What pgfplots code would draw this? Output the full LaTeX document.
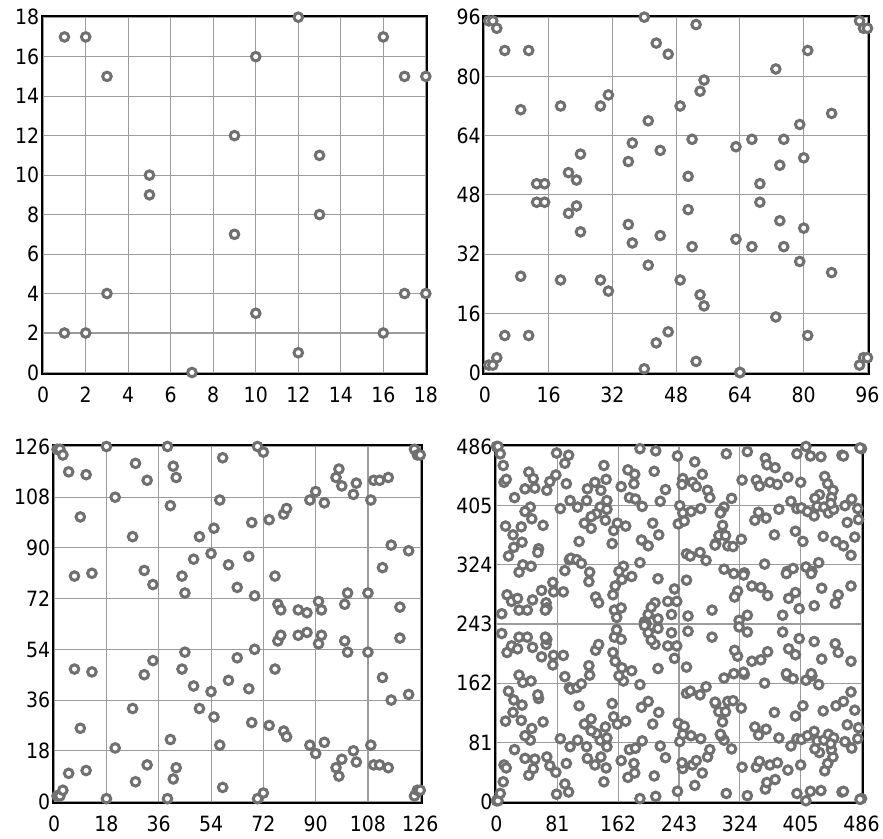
\documentclass[border=0pt]{standalone}
\usepackage{fontspec}
\setmainfont{DejaVu Sans Condensed}
\usepackage{pgfplots}
\usepackage{pgfplotstable}
\pgfplotsset{compat=1.18}
\definecolor{ring}{HTML}{707070}
\definecolor{gridc}{HTML}{9C9C9C}
\pgfplotstableread{
x y
1 17
2 17
16 17
12 18
10 16
3 15
17 15
18 15
9 12
13 11
5 10
5 9
13 8
9 7
3 4
17 4
18 4
10 3
1 2
2 2
16 2
12 1
7 0
}\dataA
\pgfplotstableread{
x y ym
1 95 2
2 95 2
3 93 4
5 87 10
11 87 10
9 71 26
19 72 25
29 72 25
31 75 22
40 96 1
53 94 3
43 89 8
46 86 11
55 79 18
54 76 21
49 72 25
41 68 29
52 63 34
37 62 35
44 60 37
36 57 40
24 59 38
21 54 43
23 52 45
13 51 46
15 51 46
51 53 44
63 61 36
67 63 34
75 63 34
79 67 30
73 82 15
81 87 10
87 70 27
80 58 39
74 56 41
69 51 46
94 95 2
95 93 4
96 93 4
64 0 0
}\dataB
\pgfplotstableread{
x y ym
1 125 2
2 125 2
3 123 4
18 126 1
39 126 1
70 126 1
72 124 3
58 122 5
28 120 7
41 119 8
42 115 12
32 114 13
5 117 10
11 116 11
21 108 19
40 105 22
9 101 26
27 94 33
57 107 20
55 97 30
50 94 33
54 88 39
48 86 41
44 80 47
45 74 53
7 80 47
13 81 46
31 82 45
34 77 50
60 84 43
63 76 51
67 87 40
69 73 54
68 99 28
74 100 27
79 102 25
80 104 23
76 80 47
77 70 57
78 68 59
84 68 59
87 67 60
88 107 20
90 110 17
93 106 21
91 71 56
92 68 59
97 115 12
98 118 9
99 112 15
100 70 57
101 74 53
103 109 18
104 113 14
108 74 53
109 107 20
110 114 13
112 114 13
115 115 12
113 83 44
116 91 36
122 89 38
119 69 58
124 125 2
125 123 4
126 123 4
}\dataC
\pgfplotstableread{
x y ym
0 486 1
1 485 2
2 486 1
5 476 11
9 460 27
10 437 50
13 441 46
43 451 36
49 442 45
38 428 59
51 429 58
24 416 71
67 426 61
71 438 49
79 447 40
80 477 10
96 474 13
91 463 24
93 435 52
143 460 27
146 441 46
131 437 50
121 428 59
139 426 61
98 412 75
120 412 75
85 401 86
108 403 84
147 412 75
138 403 84
147 400 87
133 394 93
126 390 97
145 385 102
117 381 106
126 374 113
45 403 84
38 397 90
47 387 100
62 378 109
12 377 110
33 376 111
22 365 122
34 355 132
23 348 139
16 336 151
56 346 141
55 341 146
110 356 131
156 371 116
161 381 106
172 377 110
154 353 134
175 454 33
184 448 39
183 435 52
166 431 56
191 483 4
212 480 7
241 473 14
210 452 35
225 427 60
218 411 76
177 416 71
185 414 73
194 404 83
208 381 106
216 365 122
193 358 129
202 350 137
242 380 107
244 405 82
35 324 163
46 322 165
30 314 173
97 331 156
99 333 154
107 331 156
113 326 161
91 316 171
124 314 173
123 301 186
169 322 165
163 315 172
180 308 179
167 304 183
191 327 160
215 305 182
158 295 192
155 283 204
237 291 196
132 280 207
136 272 215
75 300 187
60 289 198
76 287 200
89 287 200
14 283 204
20 274 213
28 278 209
48 276 211
30 262 225
41 262 225
66 272 215
67 265 222
65 262 225
7 257 230
157 262 225
166 265 222
211 272 215
228 274 213
240 274 213
202 256 231
215 250 237
233 256 231
206 266 221
160 252 235
199 244 243
197 246 241
248 442 45
247 434 53
264 465 22
274 448 39
261 437 50
266 431 56
281 426 61
284 416 71
259 397 90
272 401 86
248 395 92
250 384 103
306 476 11
334 479 8
358 470 17
360 461 26
371 457 30
400 476 11
412 486 1
418 473 14
432 472 15
460 474 13
462 473 14
486 483 4
484 484 3
327 440 47
346 440 47
350 432 55
364 437 50
374 434 53
388 444 43
405 437 50
437 445 42
441 435 52
448 426 61
430 420 67
424 415 72
446 416 71
473 414 73
313 415 72
303 403 84
299 397 90
298 395 92
392 411 76
400 401 86
406 402 85
414 397 90
423 391 96
427 404 83
436 403 84
442 395 92
449 400 87
445 408 79
464 405 82
481 401 86
349 396 91
344 385 102
359 388 99
376 400 87
467 382 105
482 386 101
301 378 109
296 364 123
305 364 123
326 359 128
292 353 134
291 351 136
308 350 137
315 349 138
370 365 122
398 370 117
408 356 131
435 363 124
452 356 131
462 350 137
477 362 125
472 337 150
253 339 148
258 336 151
271 341 146
279 330 157
303 318 169
316 312 175
330 313 174
329 310 177
357 325 162
387 315 172
386 312 175
395 319 168
412 321 166
420 315 172
419 312 175
429 327 160
253 303 184
340 295 192
352 293 194
361 282 205
321 288 199
317 280 207
398 286 201
389 278 209
433 292 195
472 295 192
455 283 204
451 271 216
423 268 219
403 264 223
287 262 225
255 254 233
334 255 232
323 248 239
381 255 232
}\dataD
\pgfplotsset{
  panel/.style={
    scale only axis, anchor=south west, clip=false,
    axis line style={black,line width=2pt},
    grid=major, major grid style={gridc,line width=1.1pt},
    major tick length=0pt,
    tick style={draw=none},
    tick label style={font=\fontsize{21}{21}\selectfont,
      /pgf/number format/assume math mode=true,
      /pgf/number format/1000 sep={}},
    xticklabel style={yshift=-9pt, text height=15.5pt, text depth=0pt},
    yticklabel style={xshift=1pt, text height=15.5pt, text depth=0pt},
  },
  dots/.style={only marks, mark=*, mark size=4.3pt,
    mark options={draw=ring,fill=white,line width=3pt}},
}
\begin{document}
\begin{tikzpicture}[x=1pt,y=1pt]
\useasboundingbox (0,0) rectangle (883,838);
\begin{axis}[panel, at={(41.7pt,464pt)}, width=385.6pt, height=358.3pt,
  xmin=-0.07, xmax=18.07, ymin=-0.076, ymax=18.076,
  xtick={0,2,...,18}, ytick={0,2,...,18}]
\addplot[dots] table[x=x,y=y] {\dataA};
\end{axis}
\begin{axis}[panel, at={(483.3pt,464pt)}, width=385.7pt, height=358.3pt,
  xmin=-0.38, xmax=96.38, ymin=-0.4, ymax=96.4,
  xtick={0,16,...,96}, ytick={0,16,...,96}]
\addplot[dots] table[x=x,y=y] {\dataB};
\addplot[dots] table[x=x,y=ym] {\dataB};
\end{axis}
\begin{axis}[panel, at={(52.7pt,35pt)}, width=369pt, height=358pt,
  xmin=-0.5, xmax=126.5, ymin=-0.53, ymax=126.53,
  xtick={0,18,...,126}, ytick={0,18,...,126}]
\addplot[dots] table[x=x,y=y] {\dataC};
\addplot[dots] table[x=x,y=ym] {\dataC};
\end{axis}
\begin{axis}[panel, at={(495pt,35pt)}, width=368pt, height=358pt,
  xmin=-2, xmax=488, ymin=-2.05, ymax=488.05,
  xtick={0,81,...,486}, ytick={0,81,...,486}]
\addplot[dots] table[x=x,y=y] {\dataD};
\addplot[dots] table[x=x,y=ym] {\dataD};
\end{axis}
\end{tikzpicture}
\end{document}
